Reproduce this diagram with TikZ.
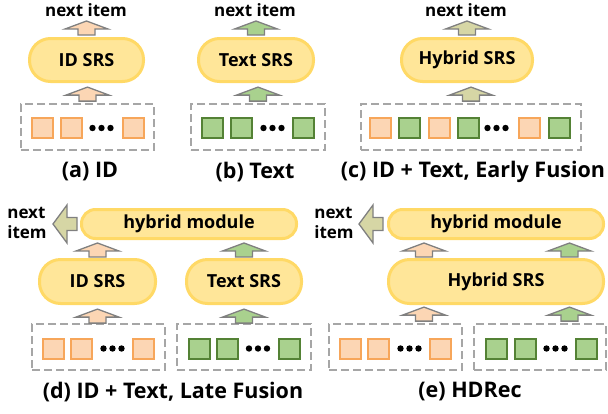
\documentclass[tikz,border=0pt]{standalone}
\usepackage{fontspec}
\setmainfont{Open Sans}
\usepackage{tikz}
\usetikzlibrary{calc}
\definecolor{srsfill}{RGB}{255,230,153}
\definecolor{srsline}{RGB}{255,217,102}
\definecolor{idfill}{RGB}{252,214,180}
\definecolor{idline}{RGB}{247,166,90}
\definecolor{txtfill}{RGB}{169,209,142}
\definecolor{txtline}{RGB}{84,130,53}
\definecolor{hybfill}{RGB}{214,214,165}
\definecolor{arrline}{RGB}{128,128,128}
\definecolor{boxline}{RGB}{166,166,166}
\tikzset{
  srs/.style={draw=srsline, fill=srsfill, line width=3pt, rounded corners=21pt,
    minimum height=43pt, inner sep=0pt, font=\fontsize{18}{21}\selectfont\bfseries},
  module/.style={srs, rounded corners=14pt, minimum height=29pt},
  seqbox/.style={draw=boxline, line width=1.8pt, dash pattern=on 8pt off 4pt,
    minimum height=46pt, inner sep=0pt},
  idsq/.style={draw=idline, fill=idfill, line width=2pt, minimum width=21pt,
    minimum height=20pt, inner sep=0pt},
  txtsq/.style={idsq, draw=txtline, fill=txtfill},
  outlabel/.style={font=\fontsize{17}{20}\selectfont\bfseries, align=left, inner sep=0pt},
  caption/.style={font=\fontsize{21.5}{24}\selectfont\bfseries, inner sep=0pt},
  pics/uparr/.style={code={
    \draw[draw=arrline, line width=1.3pt, line join=miter, fill=#1]
      (-8.5,0) -- (-8.5,-6) -- (-21.5,-6) -- (0,-14) -- (21.5,-6) -- (8.5,-6) -- (8.5,0) -- cycle;}},
  pics/leftarr/.style={code={
    \draw[draw=arrline, line width=1.3pt, line join=miter, fill=hybfill]
      (0,-6.5) -- (-10,-6.5) -- (-10,-19) -- (-24,0) -- (-10,19) -- (-10,6.5) -- (0,6.5) -- cycle;}},
  pics/seqdots/.style={code={
    \foreach \dx in {-9,0,9} \fill (\dx,0) circle (3.2pt);}}
}

\begin{document}
\begin{tikzpicture}[x=1pt, y=-1pt]
  \useasboundingbox (0,0) rectangle (608,413);

  % (a) ID
  \node[outlabel] (nextA) at (86,10) {next item};
  \node[srs, minimum width=114pt] (srsA) at (86.5,60) {ID SRS};
  \node[seqbox, minimum width=133pt] (boxA) at (87.5,127) {};
  \node[idsq] (a1) at (42.5,128) {};
  \node[idsq] (a2) at (71,128) {};
  \pic at (101.5,128) {seqdots};
  \node[idsq] (a3) at (133,128) {};
  \pic at ($(srsA.north)+(0,-2)$) {uparr=idfill};
  \pic at ($(boxA.north)+(0,-2)$) {uparr=idfill};
  \node[caption] (capA) at (90,172) {(a) ID};

  % (b) Text
  \node[outlabel] (nextB) at (255,10) {next item};
  \node[srs, minimum width=115pt] (srsB) at (256,60) {Text SRS};
  \node[seqbox, minimum width=134pt] (boxB) at (258,127) {};
  \node[txtsq] (b1) at (212.5,128) {};
  \node[txtsq] (b2) at (241,128) {};
  \pic at (272.5,128) {seqdots};
  \node[txtsq] (b3) at (303,128) {};
  \pic at ($(srsB.north)+(0,-2)$) {uparr=txtfill};
  \pic at ($(boxB.north)+(0,-2)$) {uparr=txtfill};
  \node[caption] (capB) at (255,172) {(b) Text};

  % (c) early fusion
  \node[outlabel] (nextC) at (466,10) {next item};
  \node[srs, minimum width=131pt] (srsC) at (467,60) {Hybrid SRS};
  \node[seqbox, minimum width=220pt] (boxC) at (471,127) {};
  \node[idsq] (c1) at (380,128) {};
  \node[txtsq] (c2) at (409,128) {};
  \node[idsq] (c3) at (439,128) {};
  \node[txtsq] (c4) at (468.5,128) {};
  \pic at (496.5,128) {seqdots};
  \node[idsq] (c5) at (529,128) {};
  \node[txtsq] (c6) at (559.5,128) {};
  \pic at ($(srsC.north)+(0,-2)$) {uparr=hybfill};
  \pic at ($(boxC.north)+(0,-2)$) {uparr=hybfill};
  \node[caption] (capC) at (473,172) {(c) ID + Text, Early Fusion};

  % (d) late fusion
  \node[outlabel] (nextD) at (27,223) {next\\item};
  \node[module, minimum width=215pt] (modD) at (189,224) {hybrid module};
  \node[srs, minimum width=116pt, minimum height=44pt] (srsDa) at (97.5,281.5) {ID SRS};
  \node[srs, minimum width=115pt, minimum height=44pt] (srsDb) at (244,281.5) {Text SRS};
  \node[seqbox, minimum width=133pt] (boxDa) at (98.5,347) {};
  \node[seqbox, minimum width=134pt] (boxDb) at (244,347) {};
  \node[idsq] (d1) at (53,348.5) {};
  \node[idsq] (d2) at (81,348.5) {};
  \pic at (112.5,348.5) {seqdots};
  \node[idsq] (d3) at (143,348.5) {};
  \node[txtsq] (d4) at (199,348.5) {};
  \node[txtsq] (d5) at (227.5,348.5) {};
  \pic at (258,348.5) {seqdots};
  \node[txtsq] (d6) at (289.5,348.5) {};
  \pic at ($(srsDa.north)+(0,-1)$) {uparr=idfill};
  \pic at ($(srsDb.north)+(0,-1)$) {uparr=txtfill};
  \pic at (boxDa.north -| srsDa.south) {uparr=idfill};
  \pic at (boxDb.north -| srsDb.south) {uparr=txtfill};
  \pic at ($(modD.west)+(-3,0)$) {leftarr};
  \node[caption] (capD) at (173,392) {(d) ID + Text, Late Fusion};

  % (e) HDRec
  \node[outlabel] (nextE) at (334,223) {next\\item};
  \node[module, minimum width=215pt] (modE) at (496,224) {hybrid module};
  \node[srs, minimum width=215pt, minimum height=44pt] (srsE) at (496,281.5) {Hybrid SRS};
  \node[seqbox, minimum width=133pt] (boxEa) at (395.5,347) {};
  \node[seqbox, minimum width=132pt] (boxEb) at (540,347) {};
  \node[idsq] (e1) at (350,348.5) {};
  \node[idsq] (e2) at (378.5,348.5) {};
  \pic at (409.5,348.5) {seqdots};
  \node[idsq] (e3) at (440,348.5) {};
  \node[txtsq] (e4) at (496,348.5) {};
  \node[txtsq] (e5) at (525,348.5) {};
  \pic at (555.5,348.5) {seqdots};
  \node[txtsq] (e6) at (586.5,348.5) {};
  \pic at ($(srsE.north)+(-72,-1)$) {uparr=idfill};
  \pic at ($(srsE.north)+(73.5,-1)$) {uparr=txtfill};
  \pic at ($(boxEa.north -| srsE.south)+(-72,-2)$) {uparr=idfill};
  \pic at ($(boxEb.north -| srsE.south)+(73.5,-2)$) {uparr=txtfill};
  \pic at ($(modE.west)+(-4,0)$) {leftarr};
  \node[caption] (capE) at (470,392) {(e) HDRec};
\end{tikzpicture}
\end{document}
